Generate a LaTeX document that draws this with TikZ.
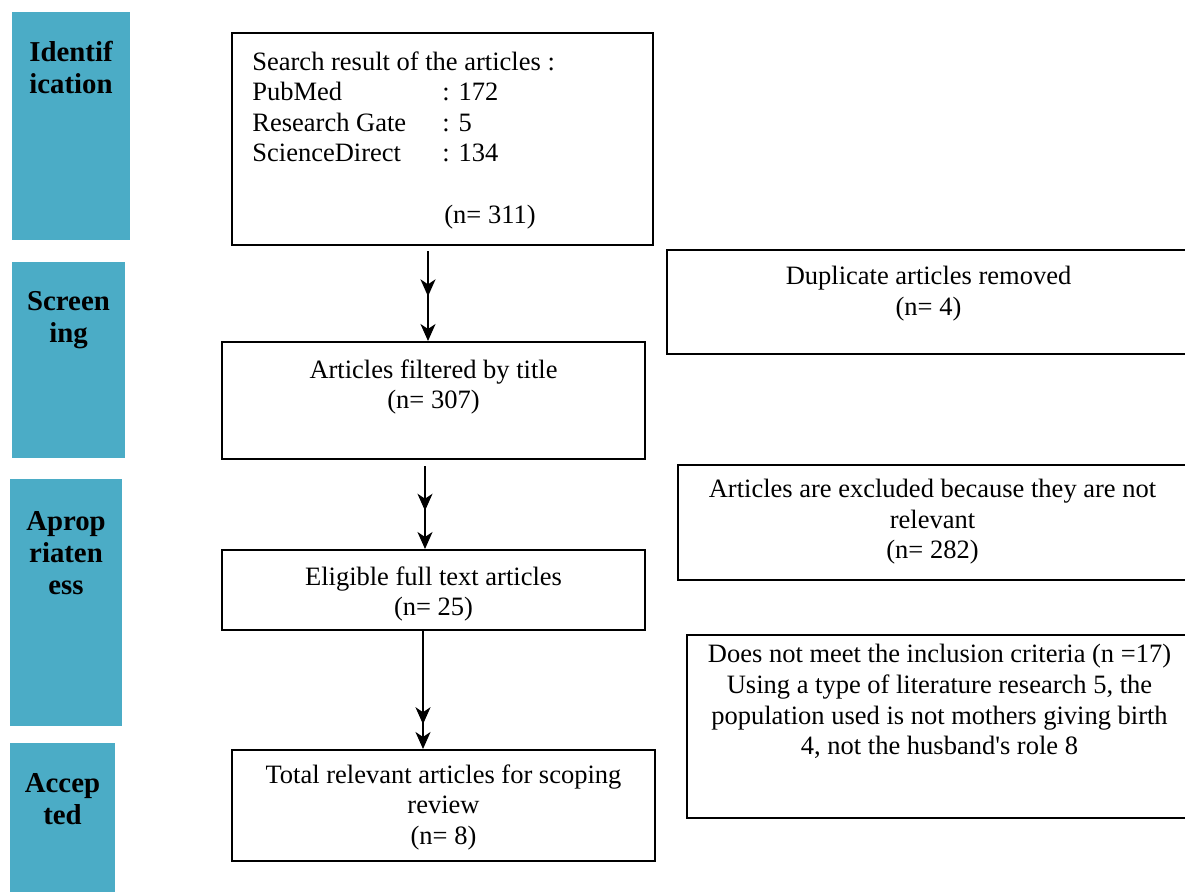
\documentclass[tikz,border=0pt]{standalone}
\usepackage{fontspec}
\setmainfont{Liberation Serif}
\usepackage{tikz}
\usetikzlibrary{arrows.meta, positioning, decorations.markings}
\definecolor{stageAzul}{RGB}{75, 172, 198}
\newcommand{\boxFont}{\fontsize{13.25pt}{15.3pt}\selectfont}
\newcommand{\stageFont}{\fontsize{14.4pt}{16pt}\selectfont\bfseries}

\begin{document}
\begin{tikzpicture}[x=0.5pt, y=-0.5pt,
    stageBar/.style={rectangle, fill=stageAzul, inner sep=0pt},
    stageText/.style={align=center, inner sep=0pt, font=\stageFont},
    flowBox/.style={rectangle, draw=black, line width=1pt, inner sep=0pt},
    flowText/.style={align=center, inner sep=0pt, font=\boxFont},
    flowLine/.style={line width=1pt, -{Stealth[length=8.5pt, width=7.5pt, inset=2.5pt]}},
    midTip/.style={postaction={decorate}, decoration={markings,
        mark=at position #1 with {\arrow{Stealth[length=8.5pt, width=7.5pt, inset=2.5pt]}}}}]

    \useasboundingbox (0,0) rectangle (1185,891);

    \node[stageBar, minimum width=59pt, minimum height=114pt] (barIdent) at (71,126) {};
    \node[stageBar, minimum width=56.5pt, minimum height=98pt] (barScreen) at (68.5,360) {};
    \node[stageBar, minimum width=56pt, minimum height=123.5pt] (barAprop) at (66,602.5) {};
    \node[stageBar, minimum width=52.5pt, minimum height=76pt] (barAccep) at (62.5,819) {};

    \node[stageText, below=14.5pt of barIdent.north] (txtIdent) {Identif\\ication};
    \node[stageText, below=14.5pt of barScreen.north] (txtScreen) {Screen\\ing};
    \node[stageText, below=16pt of barAprop.north] (txtAprop) {Aprop\\riaten\\ess};
    \node[stageText, below=15pt of barAccep.north] (txtAccep) {Accep\\ted};

    \node[flowBox, minimum width=210.5pt, minimum height=106pt] (boxSearch) at (442.5,139) {};
    \node[flowBox, minimum width=211.5pt, minimum height=58.5pt] (boxFilt) at (433.5,400.5) {};
    \node[flowBox, minimum width=211.5pt, minimum height=40pt] (boxElig) at (433.5,590) {};
    \node[flowBox, minimum width=211.5pt, minimum height=55.5pt] (boxTotal) at (443.5,805.5) {};
    \node[flowBox, minimum width=261.5pt, minimum height=52pt] (boxDup) at (928.5,302) {};
    \node[flowBox, minimum width=254.5pt, minimum height=57.5pt] (boxExcl) at (932.5,522.5) {};
    \node[flowBox, minimum width=252.5pt, minimum height=91.5pt] (boxCrit) at (939.5,726.5) {};

    \node[flowText, align=left, below right=9.5pt and 10.5pt of boxSearch.north west] (txtSearch)
        {Search result of the articles :\\
         \makebox[95pt][l]{PubMed}: 172\\
         \makebox[95pt][l]{Research Gate}: 5\\
         \makebox[95pt][l]{ScienceDirect}: 134\\[15.3pt]
         \hspace*{96pt}(n= 311)};
    \node[flowText, below=9pt of boxFilt.north] (txtFilt) {Articles filtered by title\\(n= 307)};
    \node[flowText, below=8.5pt of boxElig.north] (txtElig) {Eligible full text articles\\(n= 25)};
    \node[flowText, below=7.5pt of boxTotal.north] (txtTotal) {Total relevant articles for scoping\\review\\(n= 8)};
    \node[flowText, below=8.5pt of boxDup.north] (txtDup) {Duplicate articles removed\\(n= 4)};
    \node[flowText, below=7.5pt of boxExcl.north] (txtExcl) {Articles are excluded because they are not\\relevant\\(n= 282)};
    \node[flowText, below=5pt of boxCrit.north] (txtCrit) {Does not meet the inclusion criteria (n =17)\\
        Using a type of literature research 5, the\\population used is not mothers giving birth\\
        4, not the husband\textquotesingle s role 8};

    \coordinate (lineA) at (428,0);
    \coordinate (lineB) at (425,0);
    \coordinate (lineC) at (423,0);
    \draw[flowLine, midTip=0.53, shorten <=2.5pt] (boxSearch.south -| lineA) -- (boxFilt.north -| lineA);
    \draw[flowLine, midTip=0.57, shorten <=3pt] (boxFilt.south -| lineB) -- (boxElig.north -| lineB);
    \draw[flowLine, midTip=0.79] (boxElig.south -| lineC) -- (boxTotal.north -| lineC);
\end{tikzpicture}
\end{document}
